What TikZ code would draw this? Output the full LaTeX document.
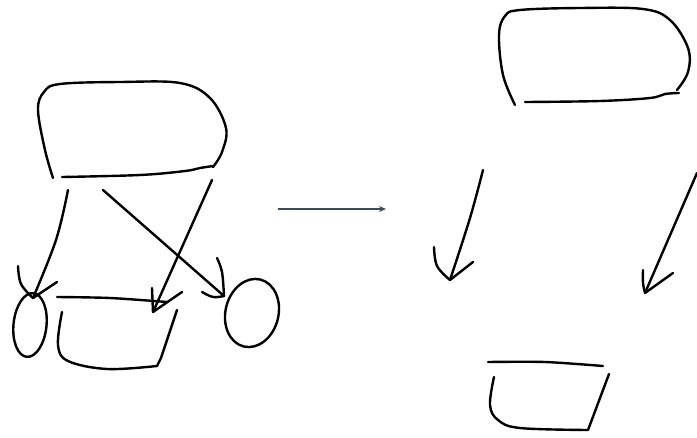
\documentclass[tikz,border=0pt]{standalone}
\usetikzlibrary{shapes.geometric,arrows.meta}
\definecolor{arrowblue}{HTML}{3A4A68}
\begin{document}
\begin{tikzpicture}[x=1pt,y=-1pt,
  sketch/.style={line width=2.4pt, line cap=round, line join=round, black},
  ring/.style={draw, ellipse, line width=2.4pt, inner sep=0pt},
  transform/.style={line width=1.3pt, arrowblue, -{Stealth[length=7pt,width=6pt]}}]
\useasboundingbox (0,0) rectangle (697,437);
% ---------- left figure ----------
% top rounded box
\draw[sketch] plot[smooth,tension=0.6] coordinates {(53,178) (45,150) (38,110) (44,92) (60,84) (120,82) (180,83) (210,98) (226,128) (222,152) (213,167)};
\draw[sketch] plot[smooth,tension=0.6] coordinates {(62,177) (140,175) (185,171) (200,168) (213,166)};
% ellipses
\node[ring, minimum width=33pt, minimum height=64pt, rotate=-6] (le) at (30,325) {};
\node[ring, minimum width=53pt, minimum height=69pt, rotate=-14] (re) at (252,313) {};
% bucket
\draw[sketch] plot[smooth,tension=0.6] coordinates {(62,312) (58,345) (68,361) (107,369) (157,366)} -- (161,358) -- (177,310);
\draw[sketch] plot[smooth,tension=0.5] coordinates {(57,297) (110,298) (167,302)};
% arrows
\coordinate (a1s) at (68,190); \coordinate (a1t) at (33,298);
\draw[sketch] plot[smooth,tension=0.6] coordinates {(a1s) (56,240) (a1t)};
\draw[sketch] plot[smooth,tension=0.6] coordinates {(18,266) (21,284) (a1t)};
\draw[sketch] (57,282) -- (a1t);
\coordinate (a2s) at (103,190); \coordinate (a2t) at (224,296);
\draw[sketch] (a2s) -- (a2t);
\draw[sketch] plot[smooth,tension=0.6] coordinates {(217,258) (222,272) (a2t)};
\draw[sketch] plot[smooth,tension=0.6] coordinates {(202,292) (213,297) (a2t)};
\coordinate (a3s) at (212,180); \coordinate (a3t) at (153,312);
\draw[sketch] (a3s) -- (a3t);
\draw[sketch] (152,288) -- (a3t);
\draw[sketch] (182,292) -- (a3t);
% ---------- transformation arrow ----------
\coordinate (ts) at (278,209); \coordinate (tt) at (386,209);
\draw[transform] (ts) -- (tt);
% ---------- right figure ----------
\draw[sketch] plot[smooth,tension=0.6] coordinates {(515,105) (503,75) (499,35) (505,16) (520,10) (580,8) (643,9) (670,20) (688,48) (688,72) (677,90)};
\draw[sketch] plot[smooth,tension=0.6] coordinates {(525,102) (600,101) (650,98) (665,94) (679,93)};
\coordinate (b1s) at (483,170); \coordinate (b1t) at (450,280);
\draw[sketch] plot[smooth,tension=0.6] coordinates {(b1s) (470,218) (b1t)};
\draw[sketch] plot[smooth,tension=0.6] coordinates {(434,247) (437,266) (b1t)};
\draw[sketch] (473,262) -- (b1t);
\coordinate (b2s) at (697,173); \coordinate (b2t) at (645,293);
\draw[sketch] (b2s) -- (b2t);
\draw[sketch] plot[smooth,tension=0.6] coordinates {(643,270) (643,283) (b2t)};
\draw[sketch] (673,273) -- (b2t);
% bucket
\draw[sketch] plot[smooth,tension=0.5] coordinates {(488,362) (545,362) (603,366)};
\draw[sketch] plot[smooth,tension=0.6] coordinates {(494,377) (490,405) (498,420) (520,428) (588,430)} -- (609,374);
\end{tikzpicture}
\end{document}
